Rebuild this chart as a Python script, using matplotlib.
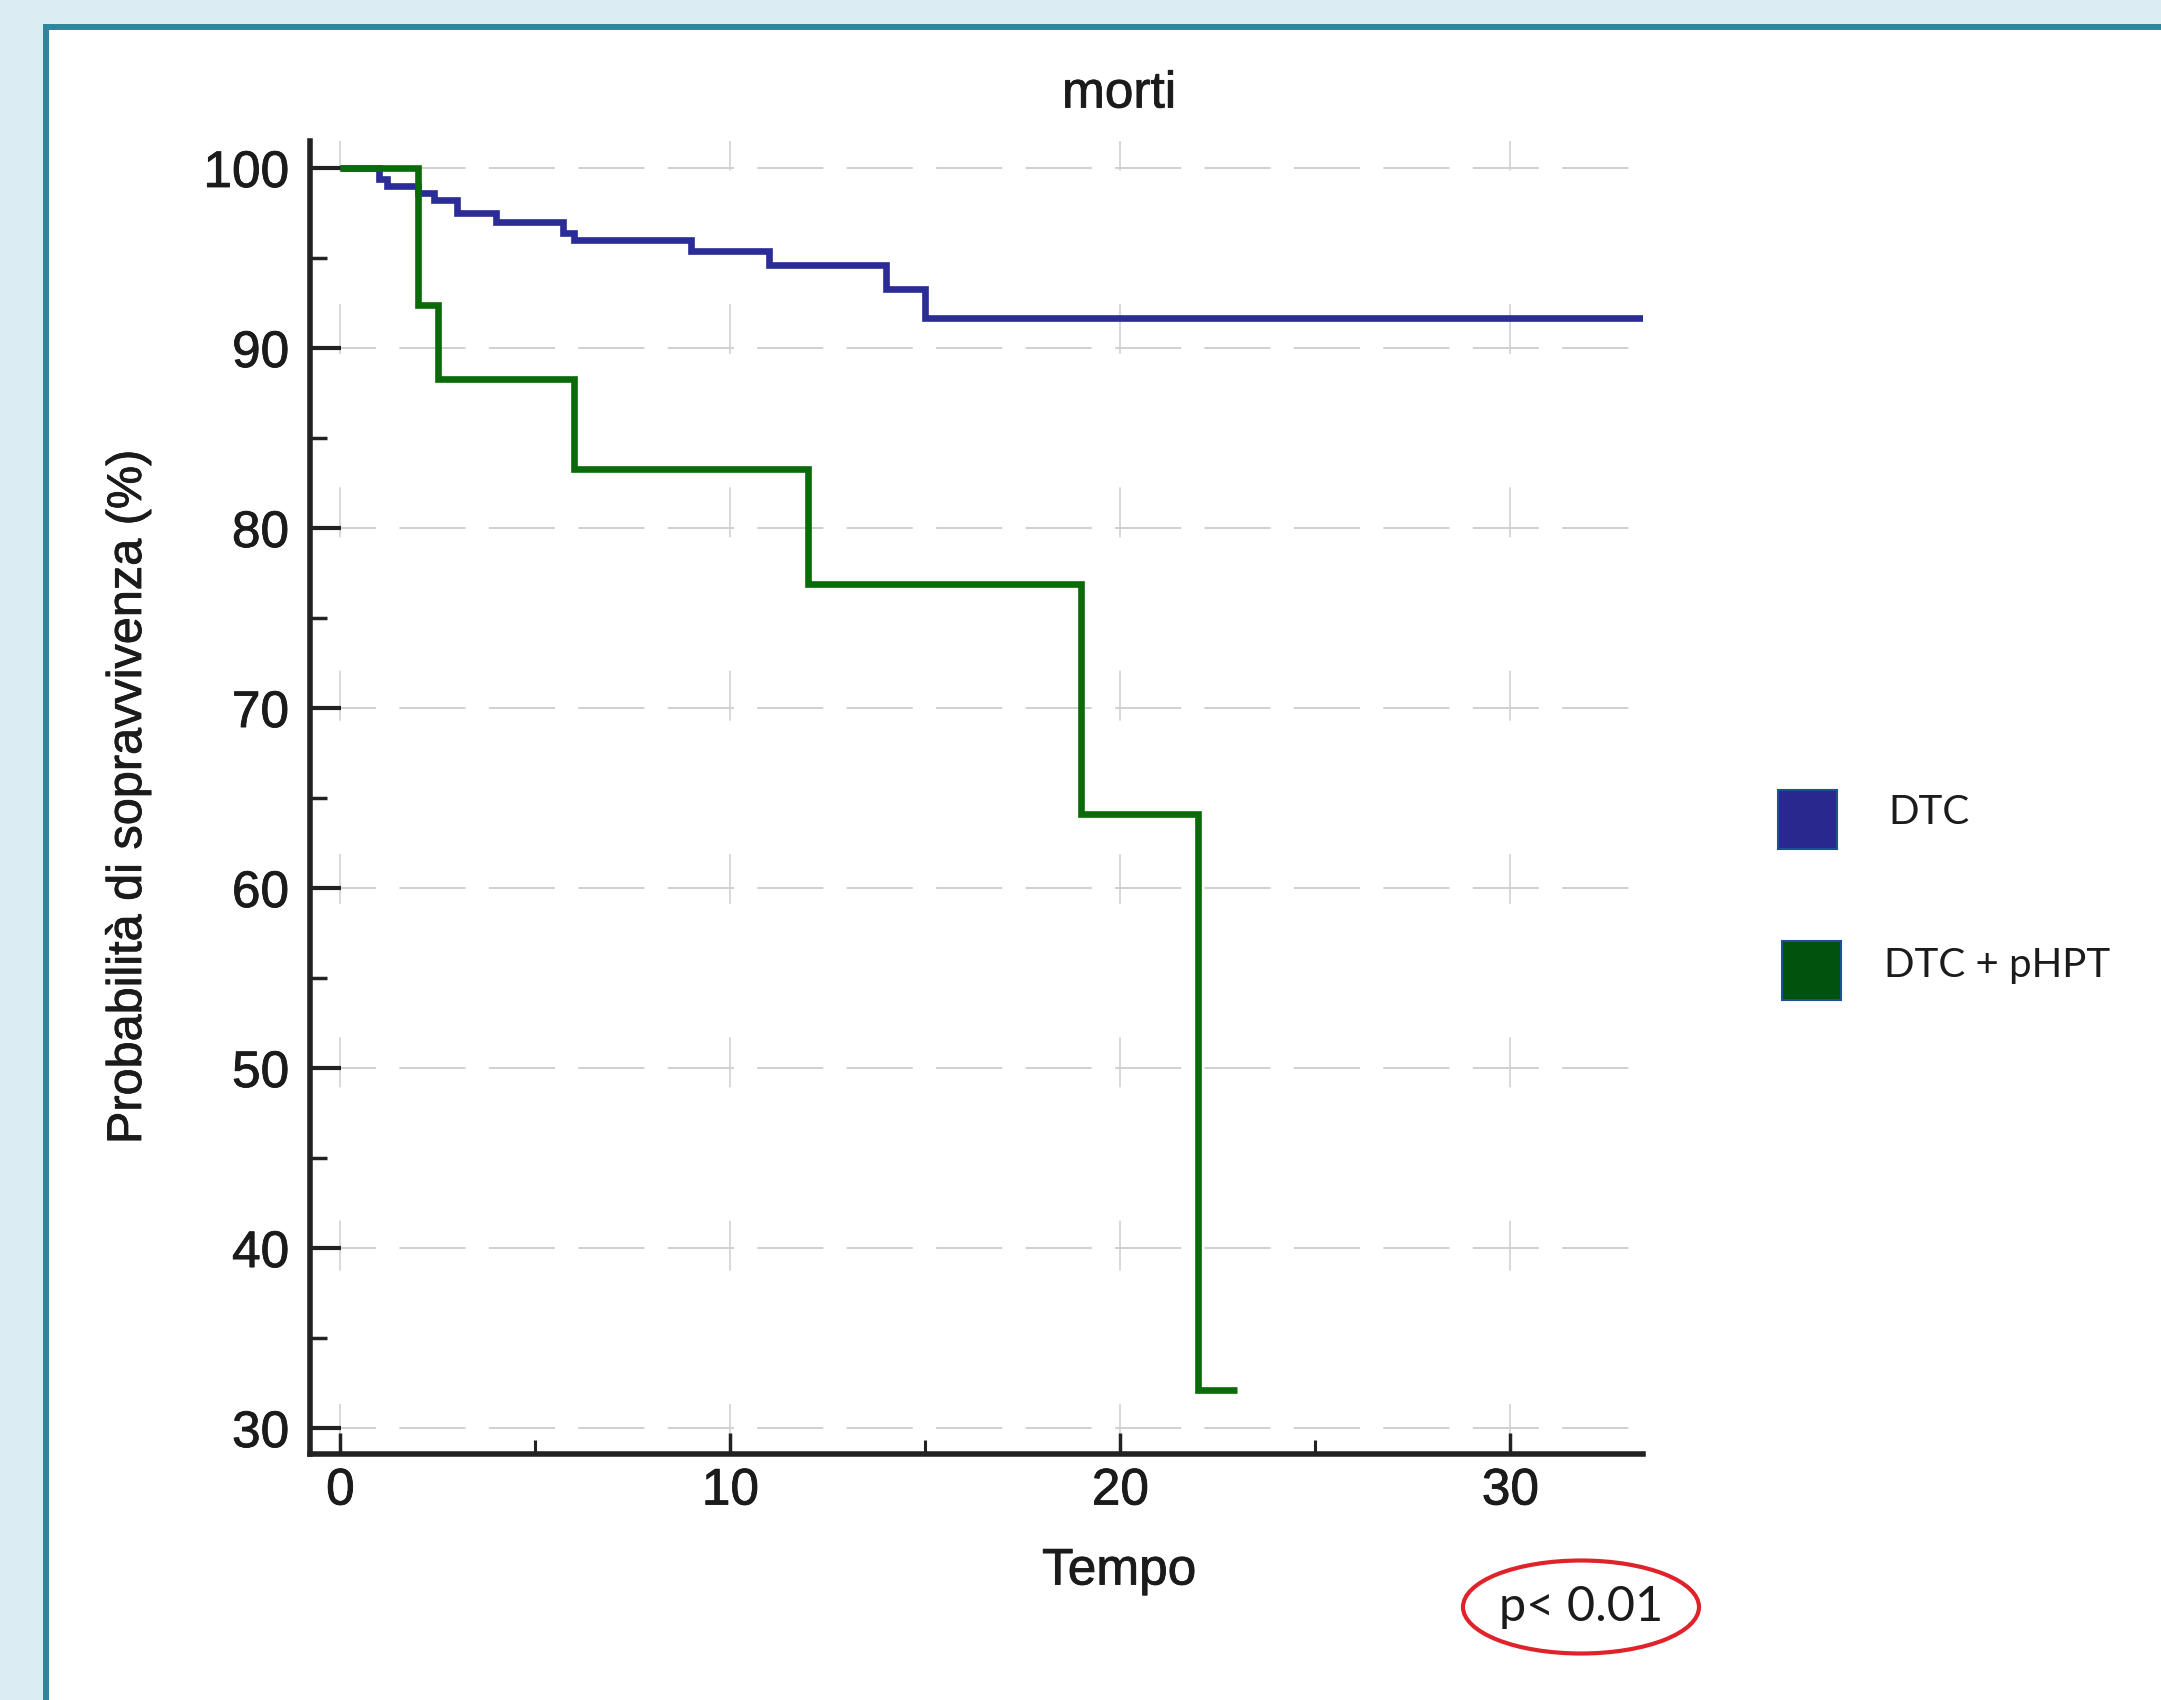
import matplotlib
matplotlib.use("Agg")
import matplotlib.pyplot as plt
import matplotlib.patheffects as pe
from matplotlib.patches import Rectangle, Ellipse

# ---- data ----
series_names = ["DTC", "DTC + pHPT"]
time_dtc = [0, 1.0, 1.2, 2.0, 2.4, 3.0, 4.0, 5.7, 6.0, 9.0, 11.0, 14.0, 15.0, 33.4]
surv_dtc = [100, 99.4, 99.0, 98.6, 98.2, 97.5, 97.0, 96.4, 96.0, 95.4, 94.6, 93.3, 91.65, 91.65]
time_phpt = [0, 2.0, 2.5, 6.0, 12.0, 19.0, 22.0, 23.0]
surv_phpt = [100, 92.4, 88.3, 83.3, 76.9, 64.1, 32.1, 32.1]
x_ticks = [0, 10, 20, 30]
y_ticks = [30, 40, 50, 60, 70, 80, 90, 100]
title_text = "morti"
x_label = "Tempo"
y_label = "Probabilità di sopravvivenza (%)"
p_text = "p< 0.01"

W, H = 2161, 1700
fig = plt.figure(figsize=(W / 100, H / 100), dpi=100)
fig.patch.set_facecolor("#dbedf3")

def fx(px):
    return px / W

def fy(py):
    return 1 - py / H

# white panel with teal border
panel = Rectangle((fx(45.5), -0.1), 1.2, fy(27) + 0.1, transform=fig.transFigure,
                  facecolor="white", edgecolor="#31849b", linewidth=4.3, zorder=-5)
fig.add_artist(panel)

ax = fig.add_axes([fx(310), fy(1454), fx(1643) - fx(310), fy(141) - fy(1454)])
ax.set_facecolor("none")
ax.set_xlim(-0.78, 33.4)
ax.set_ylim(28.56, 101.5)

blue = "#2c2c96"
green = "#0b6b0b"
ax.step(time_dtc, surv_dtc, where="post", color=blue, lw=4.8, solid_joinstyle="miter",
        solid_capstyle="butt", zorder=3)
ax.step(time_phpt, surv_phpt, where="post", color=green, lw=4.8, solid_joinstyle="miter",
        solid_capstyle="butt", zorder=4)

for s in ["top", "right"]:
    ax.spines[s].set_visible(False)
for s in ["left", "bottom"]:
    ax.spines[s].set_linewidth(4.0)
    ax.spines[s].set_color("#222222")

bold_fx = [pe.withStroke(linewidth=0.6, foreground="#1b1b1b")]
tick_font = dict(family=["Liberation Sans", "DejaVu Sans"], size=37)
ax.set_xticks(x_ticks)
ax.set_yticks(y_ticks)
ax.set_xticks([5, 15, 25], minor=True)
ax.set_yticks([35, 45, 55, 65, 75, 85, 95], minor=True)
ax.set_xticklabels([str(v) for v in x_ticks], fontdict=tick_font, color="#1b1b1b")
ax.set_yticklabels([str(v) for v in y_ticks], fontdict=tick_font, color="#1b1b1b")
for lab in ax.get_xticklabels() + ax.get_yticklabels():
    lab.set_path_effects(bold_fx)
ax.tick_params(axis="y", which="major", direction="in", length=22, width=3, color="#222222", pad=15)
ax.tick_params(axis="y", which="minor", direction="in", length=12, width=2.5, color="#222222")
ax.tick_params(axis="x", which="major", direction="in", length=15, width=2.5, color="#222222", pad=9)
ax.tick_params(axis="x", which="minor", direction="in", length=10, width=2.2, color="#222222")

ax.grid(axis="y", which="major", color="#d0d0d0", lw=1.4, linestyle=(0, (34, 12)))
ax.grid(axis="x", which="major", color="#d2d2d2", lw=1.2, linestyle=(0, (30, 80)))
ax.set_axisbelow(True)

txt = dict(family=["Liberation Sans", "DejaVu Sans"], color="#1b1b1b")
fig.text(fx(1119), fy(94), title_text, ha="center", va="center", size=37,
         path_effects=bold_fx, **txt)
fig.text(fx(1119), fy(1571), x_label, ha="center", va="center", size=37,
         path_effects=bold_fx, **txt)
fig.text(fx(128), fy(797), y_label, ha="center", va="center", rotation=90, size=35,
         path_effects=bold_fx, **txt)

# legend
leg_font = dict(family=["Lato", "DejaVu Sans"], color="#1b1b1b")
sq_cols = ["#28288f", "#00520c"]
sq_pos = [(1778, 790), (1782, 941)]
txt_pos = [(1888, 813), (1884, 965)]
for name, col, (sx, sy), (tx, ty) in zip(series_names, sq_cols, sq_pos, txt_pos):
    fig.add_artist(Rectangle((fx(sx), fy(sy + 59)), fx(59), 59 / H, transform=fig.transFigure,
                             facecolor=col, edgecolor="#1f4e9a", linewidth=1.5))
    fig.text(fx(tx), fy(ty), name, ha="left", va="center", size=29, **leg_font)

# p-value
fig.text(fx(1581), fy(1607), p_text, ha="center", va="center", size=35, **leg_font)
fig.add_artist(Ellipse((fx(1581), fy(1607)), fx(236), 93 / H, transform=fig.transFigure,
                       fill=False, edgecolor="#e0222b", linewidth=3))

fig.savefig("out.png", dpi=100, facecolor=fig.get_facecolor())
